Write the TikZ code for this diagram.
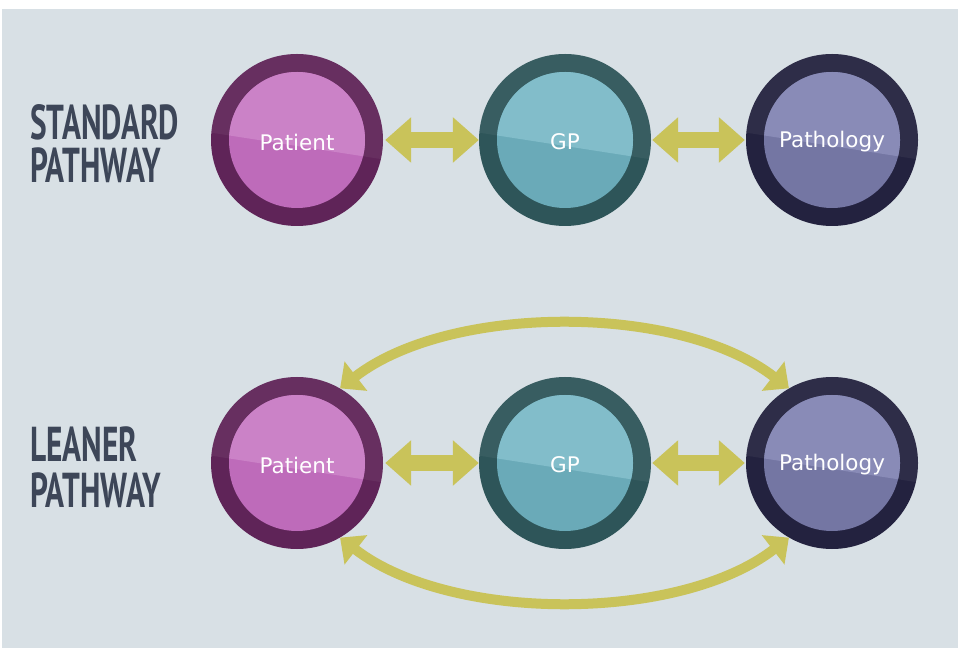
\documentclass[tikz,border=0pt]{standalone}
\usepackage{fontspec}
\newfontfamily\titlefont{PT Sans}
\newfontfamily\lblfont{DejaVu Sans}
\usetikzlibrary{arrows.meta,calc}
\definecolor{bgpanel}{HTML}{D8E0E5}
\definecolor{arrowc}{HTML}{C9C35A}
\definecolor{titlec}{HTML}{3D4658}
\definecolor{patring}{HTML}{5F2458}
\definecolor{patin}{HTML}{BE6BBA}
\definecolor{patgl}{HTML}{CB82C7}
\definecolor{gpring}{HTML}{2E5559}
\definecolor{gpin}{HTML}{6AAAB8}
\definecolor{gpgl}{HTML}{82BDCA}
\definecolor{paring}{HTML}{23223F}
\definecolor{pain}{HTML}{7476A3}
\definecolor{pagl}{HTML}{898BB7}
\tikzset{
  ballbase/.style={circle, minimum size=172pt, inner sep=0pt},
  lbl/.style={font=\lblfont\fontsize{21.5}{24}\selectfont, text=white, inner sep=0pt},
  ttl/.style={font=\titlefont\bfseries\fontsize{49}{49}\selectfont, text=titlec, xscale=0.64, inner sep=0pt, text height=35pt, text depth=0pt, anchor=base west},
  dbl/.style={draw=arrowc, line width=16pt, {Triangle[length=26pt,width=44pt]}-{Triangle[length=26pt,width=44pt]}},
  arc/.style={draw=arrowc, line width=10pt, {Triangle[length=20pt,width=36pt]}-{Triangle[length=20pt,width=36pt]}}
}
\newcommand\myball[7]{%
  \node[ballbase, fill=#4] (#1) at (#2,#3) {};
  \begin{scope}
    \clip (#1.center) circle (86pt);
    \fill[white, opacity=0.05] ($(#1.center)+(-90,8)$) -- ($(#1.center)+(90,-20)$) -- ++(0,120) -- ++(-180,0) -- cycle;
  \end{scope}
  \fill[#5] (#1.center) circle (68pt);
  \begin{scope}
    \clip (#1.center) circle (68pt);
    \fill[#6] ($(#1.center)+(-90,8)$) -- ($(#1.center)+(90,-20)$) -- ++(0,120) -- ++(-180,0) -- cycle;
  \end{scope}
  \node[lbl] (#1t) at ($(#1.center)+(0,-2)$) {#7};
}
\begin{document}
\begin{tikzpicture}[x=1pt,y=1pt]
\useasboundingbox (0,0) rectangle (960,648);
\fill[white] (0,0) rectangle (960,648);
\fill[bgpanel] (2,0) rectangle (958,639);

\node[ttl] (t1) at (30,508) {STANDARD};
\node[ttl] (t2) at (30,465) {PATHWAY};
\node[ttl] (t3) at (30,186) {LEANER};
\node[ttl] (t4) at (30,141) {PATHWAY};

\myball{p1}{297}{508}{patring}{patin}{patgl}{Patient}
\myball{g1}{565}{508}{gpring}{gpin}{gpgl}{GP}
\myball{h1}{832}{508}{paring}{pain}{pagl}{Pathology}
\myball{p2}{297}{185}{patring}{patin}{patgl}{Patient}
\myball{g2}{565}{185}{gpring}{gpin}{gpgl}{GP}
\myball{h2}{832}{185}{paring}{pain}{pagl}{Pathology}

\draw[dbl, shorten <=2pt] (p1.east) -- (g1.west);
\draw[dbl, shorten <=1pt, shorten >=1pt] (g1.east) -- (h1.west);
\draw[dbl, shorten <=2pt] (p2.east) -- (g2.west);
\draw[dbl, shorten <=1pt, shorten >=1pt] (g2.east) -- (h2.west);

\draw[arc] (p2.60) .. controls +(110,85) and +(-110,85) .. (h2.120);
\draw[arc] (p2.-60) .. controls +(110,-85) and +(-110,-85) .. (h2.-120);
\end{tikzpicture}
\end{document}
